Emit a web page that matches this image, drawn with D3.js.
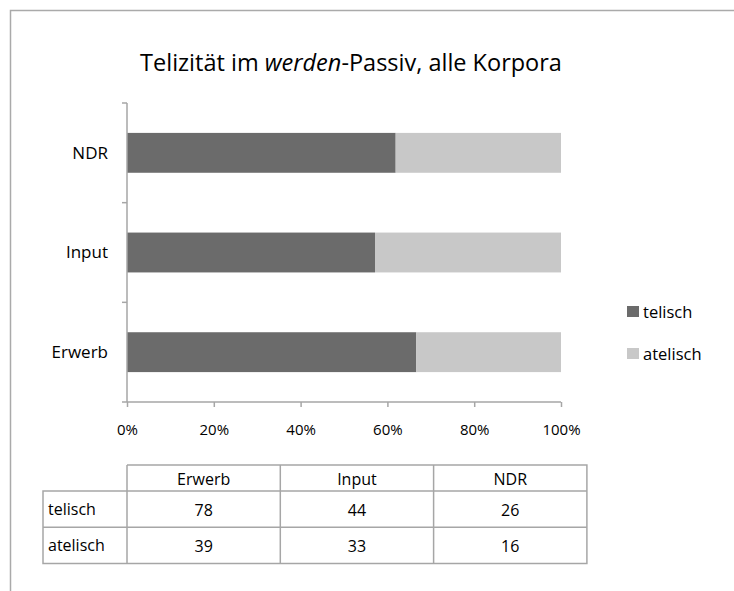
<!DOCTYPE html>
<html>
<head>
<meta charset="utf-8">
<script src="https://cdn.jsdelivr.net/npm/d3@7"></script>
<style>
    body { margin: 0; background: #fff; }
    text { font-family: "Open Sans", Lato, sans-serif; fill: #000; }
</style>
</head>
<body>
<div id="chart"></div>
<script>
/*global d3 */
(function () {
    "use strict";

    // data
    var corpora = ["Erwerb", "Input", "NDR"],
        seriesNames = ["telisch", "atelisch"],
        telisch = [78, 44, 26],
        atelisch = [39, 33, 16],
        xTicks = [0, 0.2, 0.4, 0.6, 0.8, 1],
        colors = ["#6b6b6b", "#c8c8c8"],

    W = 734, H = 591,
    plot = {left: 127, right: 561, top: 103, bottom: 402},
    tbl = {top: 465, hdr: 491, row: 36.3, left: 43, rhw: 84, colw: 153.3},
    gridc = "#a6a6a6",
    fs = "16px",

    svg, x, y, rows, stack, tab;

    svg = d3.select("#chart").append("svg")
        .attr("width", W).attr("height", H);

    // outer frame of the chart area (cut off at right and bottom)
    svg.append("path")
        .attr("d", "M10.5," + (H + 2) + "V10.5H" + (W + 2))
        .attr("fill", "none").attr("stroke", "#aaa").attr("stroke-width", 1.5);

    svg.append("text")
        .attr("x", 351).attr("y", 71)
        .attr("text-anchor", "middle")
        .style("font-size", "23.5px")
        .call(function (t) {
            t.append("tspan").text("Telizität im ");
            t.append("tspan").style("font-style", "italic").text("werden");
            t.append("tspan").text("-Passiv, alle Korpora"); });

    // shares per corpus
    rows = corpora.map(function (c, i) {
        var tot = telisch[i] + atelisch[i];
        return {corpus: c, telisch: telisch[i] / tot, atelisch: atelisch[i] / tot};
    });
    stack = d3.stack().keys(seriesNames)(rows);

    x = d3.scaleLinear().domain([0, 1]).range([plot.left, plot.right]);
    y = d3.scaleBand().domain(corpora.slice().reverse())
        .range([plot.top, plot.bottom]).paddingInner(0.6).paddingOuter(0.3);

    svg.append("g").selectAll("g").data(stack).join("g")
        .attr("fill", function (d, i) { return colors[i]; })
        .selectAll("rect").data(function (d) { return d; }).join("rect")
        .attr("x", function (d) { return x(d[0]); })
        .attr("width", function (d) { return x(d[1]) - x(d[0]); })
        .attr("y", function (d) { return y(d.data.corpus); })
        .attr("height", y.bandwidth());

    // y axis: ticks sit between the categories
    svg.append("line")
        .attr("x1", plot.left).attr("x2", plot.left)
        .attr("y1", plot.top).attr("y2", plot.bottom)
        .attr("stroke", gridc).attr("stroke-width", 1.5);
    svg.append("g").selectAll("line")
        .data(d3.range(corpora.length + 1)).join("line")
        .attr("x1", plot.left - 5).attr("x2", plot.left)
        .attr("y1", function (i) { return plot.top + i * (plot.bottom - plot.top) / corpora.length; })
        .attr("y2", function (i) { return plot.top + i * (plot.bottom - plot.top) / corpora.length; })
        .attr("stroke", gridc).attr("stroke-width", 1.5);
    svg.append("g").selectAll("text").data(corpora).join("text")
        .attr("x", plot.left - 19)
        .attr("y", function (d) { return y(d) + y.bandwidth() / 2; })
        .attr("dy", "0.35em").attr("text-anchor", "end")
        .style("font-size", "17px")
        .text(function (d) { return d; });

    // x axis
    svg.append("g")
        .attr("transform", "translate(0," + plot.bottom + ")")
        .call(d3.axisBottom(x).tickValues(xTicks).tickFormat(d3.format(".0%"))
              .tickSize(5).tickPadding(17))
        .call(function (g) {
            g.select(".domain").attr("stroke", gridc).attr("stroke-width", 1.5)
                .attr("d", "M" + plot.left + ",0H" + plot.right);
            g.selectAll(".tick line").attr("stroke", gridc).attr("stroke-width", 1.5);
            g.selectAll(".tick text").style("font-size", "15px")
                .style("font-family", "\"Open Sans\", sans-serif").attr("fill", "#000"); });

    // legend
    var leg = svg.append("g").selectAll("g").data(seriesNames).join("g")
        .attr("transform", function (d, i) { return "translate(627," + (306 + i * 42) + ")"; });
    leg.append("rect").attr("width", 12).attr("height", 11)
        .attr("fill", function (d, i) { return colors[i]; });
    leg.append("text").attr("x", 16).attr("y", 6).attr("dy", "0.35em")
        .style("font-size", "16.5px")
        .text(function (d) { return d; });

    // data table
    tab = svg.append("g").attr("fill", "none").attr("stroke", gridc).attr("stroke-width", 1.5);
    var colX = function (i) { return tbl.left + tbl.rhw + i * tbl.colw; },
        rowY = function (i) { return tbl.hdr + i * tbl.row; },
        right = colX(corpora.length), bottom = rowY(seriesNames.length);
    tab.append("path").attr("d",
        "M" + colX(0) + "," + tbl.top + "H" + right + "V" + bottom + "H" + tbl.left +
        "V" + tbl.hdr + "H" + right);
    tab.selectAll("line.v").data(d3.range(corpora.length)).join("line")
        .attr("x1", colX).attr("x2", colX)
        .attr("y1", tbl.top).attr("y2", bottom);
    tab.selectAll("line.h").data(d3.range(1, seriesNames.length)).join("line")
        .attr("x1", tbl.left).attr("x2", right)
        .attr("y1", rowY).attr("y2", rowY);

    svg.append("g").selectAll("text").data(corpora).join("text")
        .attr("x", function (d, i) { return colX(i) + tbl.colw / 2; })
        .attr("y", (tbl.top + tbl.hdr) / 2 + 1).attr("dy", "0.35em")
        .attr("text-anchor", "middle").style("font-size", fs)
        .text(function (d) { return d; });
    svg.append("g").selectAll("text").data(seriesNames).join("text")
        .attr("x", tbl.left + 5)
        .attr("y", function (d, i) { return rowY(i) + tbl.row / 2; }).attr("dy", "0.35em")
        .style("font-size", fs)
        .text(function (d) { return d; });
    svg.append("g").selectAll("g").data([telisch, atelisch]).join("g")
        .selectAll("text").data(function (d, r) {
            return d.map(function (v) { return {v: v, r: r}; }); })
        .join("text")
        .attr("x", function (d, i) { return colX(i) + tbl.colw / 2; })
        .attr("y", function (d) { return rowY(d.r) + tbl.row / 2 + 1; }).attr("dy", "0.35em")
        .attr("text-anchor", "middle").style("font-size", fs)
        .text(function (d) { return d.v; });
}());
</script>
</body>
</html>
